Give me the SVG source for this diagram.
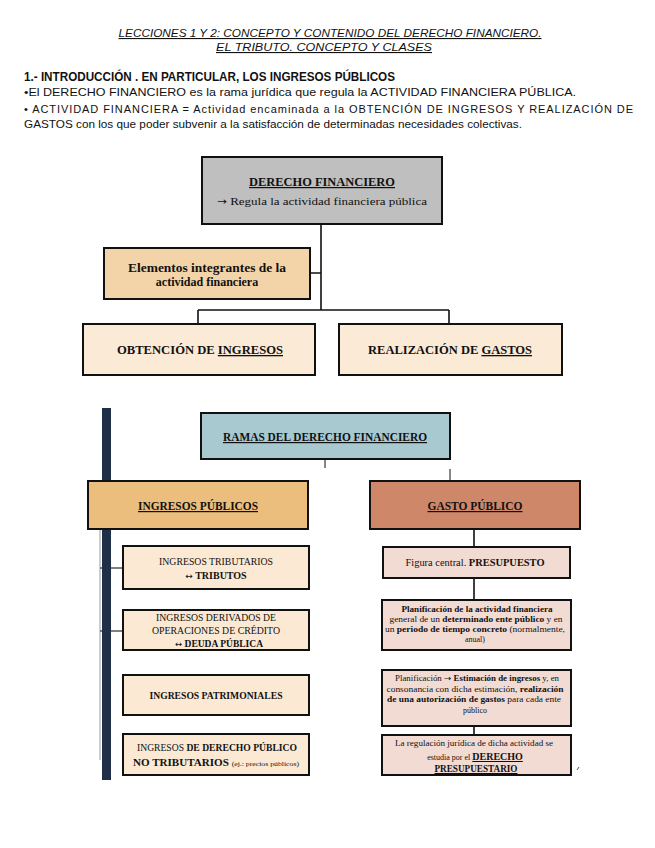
<svg xmlns="http://www.w3.org/2000/svg" width="655" height="848" viewBox="0 0 655 848">
<style>
.hd{font-family:"Liberation Sans",Arial,sans-serif;fill:#111;}
.title{font-size:11px;font-style:italic;text-decoration:underline;}
.h1{font-size:12.5px;font-weight:bold;}
.body{font-size:11px;}
.sf{font-family:"Liberation Serif","DejaVu Serif",serif;fill:#111;text-anchor:middle;}
.ar{font-family:"DejaVu Sans",sans-serif;}
.b{font-weight:bold;}
.u{text-decoration:underline;}
.box{stroke:#111;stroke-width:2;}
.con{fill:none;stroke:#111;stroke-width:1.6;}
.cong{fill:none;stroke:#555;stroke-width:1.4;}
.faint{fill:none;stroke:#aaa;stroke-width:1.2;}
</style>
<rect width="655" height="848" fill="#ffffff"/>
<g id="header">
<text class="hd title" x="330" y="37" text-anchor="middle" textLength="423" lengthAdjust="spacingAndGlyphs">LECCIONES 1 Y 2: CONCEPTO Y CONTENIDO DEL DERECHO FINANCIERO.</text>
<text class="hd title" x="324" y="51" text-anchor="middle" textLength="216" lengthAdjust="spacingAndGlyphs">EL TRIBUTO. CONCEPTO Y CLASES</text>
<text class="hd h1" x="24" y="81" textLength="371" lengthAdjust="spacingAndGlyphs">1.- INTRODUCCIÓN . EN PARTICULAR, LOS INGRESOS PÚBLICOS</text>
<text class="hd body" x="24" y="96" textLength="552" lengthAdjust="spacingAndGlyphs">•El DERECHO FINANCIERO es la rama jurídica que regula la ACTIVIDAD FINANCIERA PÚBLICA.</text>
<text class="hd body" x="24" y="113" textLength="609" lengthAdjust="spacing">• ACTIVIDAD FINANCIERA = Actividad encaminada a la OBTENCIÓN DE INGRESOS Y REALIZACIÓN DE</text>
<text class="hd body" x="24" y="128" textLength="498" lengthAdjust="spacingAndGlyphs">GASTOS con los que poder subvenir a la satisfacción de determinadas necesidades colectivas.</text>
</g>
<g id="connectors">
<path class="con" d="M321 224 V310 M310 273 H321 M198 310 H449 M198 310 V324 M449 310 V324"/>
<path class="cong" d="M325 459 V468 M450 469 V481"/>
<path class="con" d="M474 529 V547 M474 578 V600 M474 726 V735"/>
<path class="faint" d="M100 530 V760"/>
<path class="cong" d="M100 568 H123 M100 631 H123"/>
</g>
<g id="n-derecho">
<rect class="box" x="202" y="157" width="240" height="67" fill="#bfbfbf"/>
<text class="sf b u" x="322" y="186" font-size="12" textLength="146" lengthAdjust="spacingAndGlyphs">DERECHO FINANCIERO</text>
<text class="sf" x="322" y="205" font-size="11" textLength="210" lengthAdjust="spacingAndGlyphs"><tspan class="ar" font-size="10">→</tspan> Regula la actividad financiera pública</text>
</g>
<g id="n-elementos">
<rect class="box" x="104" y="248" width="206" height="51" fill="#f3d4a8"/>
<text class="sf b" x="207" y="272" font-size="12" textLength="158" lengthAdjust="spacingAndGlyphs">Elementos integrantes de la</text>
<text class="sf b" x="207" y="286" font-size="12">actividad financiera</text>
</g>
<g id="n-obtencion">
<rect class="box" x="83" y="324" width="232" height="51" fill="#fbead5"/>
<text class="sf b" x="200" y="354" font-size="13" textLength="166" lengthAdjust="spacingAndGlyphs">OBTENCIÓN DE <tspan class="u">INGRESOS</tspan></text>
</g>
<g id="n-realizacion">
<rect class="box" x="339" y="324" width="223" height="51" fill="#fbead5"/>
<text class="sf b" x="450" y="354" font-size="13" textLength="164" lengthAdjust="spacingAndGlyphs">REALIZACIÓN DE <tspan class="u">GASTOS</tspan></text>
</g>
<g id="n-bar">
<rect x="102" y="408" width="9" height="372" fill="#1e2f47"/>
</g>
<g id="n-ramas">
<rect class="box" x="201" y="413" width="249" height="46" fill="#a8c9d0"/>
<text class="sf b u" x="325" y="441" font-size="12" textLength="204" lengthAdjust="spacingAndGlyphs">RAMAS DEL DERECHO FINANCIERO</text>
</g>
<g id="n-ingresos">
<rect class="box" x="88" y="481" width="220" height="48" fill="#ecbe7e"/>
<text class="sf b u" x="198" y="510" font-size="12" textLength="120" lengthAdjust="spacingAndGlyphs">INGRESOS PÚBLICOS</text>
</g>
<g id="n-gasto">
<rect class="box" x="370" y="481" width="210" height="48" fill="#cf8769"/>
<text class="sf b u" x="475" y="510" font-size="12" textLength="95" lengthAdjust="spacingAndGlyphs">GASTO PÚBLICO</text>
</g>
<g id="n-tributarios">
<rect class="box" x="123" y="546" width="186" height="43" fill="#fbe9d4"/>
<text class="sf" x="216" y="565" font-size="10" textLength="114" lengthAdjust="spacingAndGlyphs">INGRESOS TRIBUTARIOS</text>
<text class="sf b" x="216" y="579" font-size="10"><tspan class="ar" font-weight="normal" font-size="9">↔</tspan> TRIBUTOS</text>
</g>
<g id="n-credito">
<rect class="box" x="123" y="610" width="186" height="40" fill="#fbe9d4"/>
<text class="sf" x="216" y="621" font-size="10" textLength="120" lengthAdjust="spacingAndGlyphs">INGRESOS DERIVADOS DE</text>
<text class="sf" x="216" y="634" font-size="10" textLength="128" lengthAdjust="spacingAndGlyphs">OPERACIONES DE CRÉDITO</text>
<text class="sf b" x="219" y="647" font-size="10" textLength="88" lengthAdjust="spacingAndGlyphs"><tspan class="ar" font-weight="normal" font-size="9">↔</tspan> DEUDA PÚBLICA</text>
</g>
<g id="n-patrimoniales">
<rect class="box" x="123" y="675" width="186" height="40" fill="#fbe9d4"/>
<text class="sf b" x="216" y="699" font-size="10" textLength="133" lengthAdjust="spacingAndGlyphs">INGRESOS PATRIMONIALES</text>
</g>
<g id="n-notributarios">
<rect class="box" x="123" y="734" width="186" height="41" fill="#fbe9d4"/>
<text class="sf" x="217" y="751" font-size="10" textLength="160" lengthAdjust="spacingAndGlyphs">INGRESOS <tspan class="b">DE DERECHO PÚBLICO</tspan></text>
<text class="sf" x="216" y="766" font-size="10" textLength="166" lengthAdjust="spacingAndGlyphs"><tspan class="b">NO TRIBUTARIOS</tspan> <tspan font-size="7">(ej.: precios públicos)</tspan></text>
</g>
<g id="n-presupuesto">
<rect class="box" x="383" y="547" width="187" height="31" fill="#f1dbd3"/>
<text class="sf" x="475" y="566" font-size="10" textLength="139" lengthAdjust="spacingAndGlyphs">Figura central. <tspan class="b">PRESUPUESTO</tspan></text>
</g>
<g id="n-planificacion">
<rect class="box" x="382" y="600" width="189" height="50" fill="#f1dbd3"/>
<text class="sf b" x="477" y="612" font-size="8" textLength="151" lengthAdjust="spacingAndGlyphs">Planificación de la actividad financiera</text>
<text class="sf" x="476" y="622" font-size="8" textLength="173" lengthAdjust="spacingAndGlyphs">general de un <tspan class="b">determinado ente público</tspan> y en</text>
<text class="sf" x="475" y="632" font-size="8" textLength="180" lengthAdjust="spacingAndGlyphs">un <tspan class="b">periodo de tiempo concreto</tspan> (normalmente,</text>
<text class="sf" x="475" y="642" font-size="8">anual)</text>
</g>
<g id="n-estimacion">
<rect class="box" x="382" y="670" width="189" height="56" fill="#f1dbd3"/>
<text class="sf" x="477" y="681" font-size="8" textLength="164" lengthAdjust="spacingAndGlyphs">Planificación <tspan class="ar" font-size="8">→</tspan> <tspan class="b">Estimación de ingresos</tspan> y, en</text>
<text class="sf" x="475" y="692" font-size="8" textLength="177" lengthAdjust="spacingAndGlyphs">consonancia con dicha estimación, <tspan class="b">realización</tspan></text>
<text class="sf" x="474" y="702" font-size="8" textLength="174" lengthAdjust="spacingAndGlyphs"><tspan class="b">de una autorización de gastos</tspan> para cada ente</text>
<text class="sf" x="475" y="713" font-size="8">público</text>
</g>
<g id="n-regulacion">
<rect class="box" x="382" y="735" width="189" height="40" fill="#f1dbd3"/>
<text class="sf" x="474" y="746" font-size="8" textLength="158" lengthAdjust="spacingAndGlyphs">La regulación jurídica de dicha actividad se</text>
<text class="sf" x="475" y="760" font-size="8">estudia por el <tspan class="b u" font-size="10">DERECHO</tspan></text>
<text class="sf b u" x="476" y="772" font-size="10" textLength="83" lengthAdjust="spacingAndGlyphs">PRESUPUESTARIO</text>
</g>
<path d="M577 770 L579 767" stroke="#555" stroke-width="1" fill="none"/>
</svg>
